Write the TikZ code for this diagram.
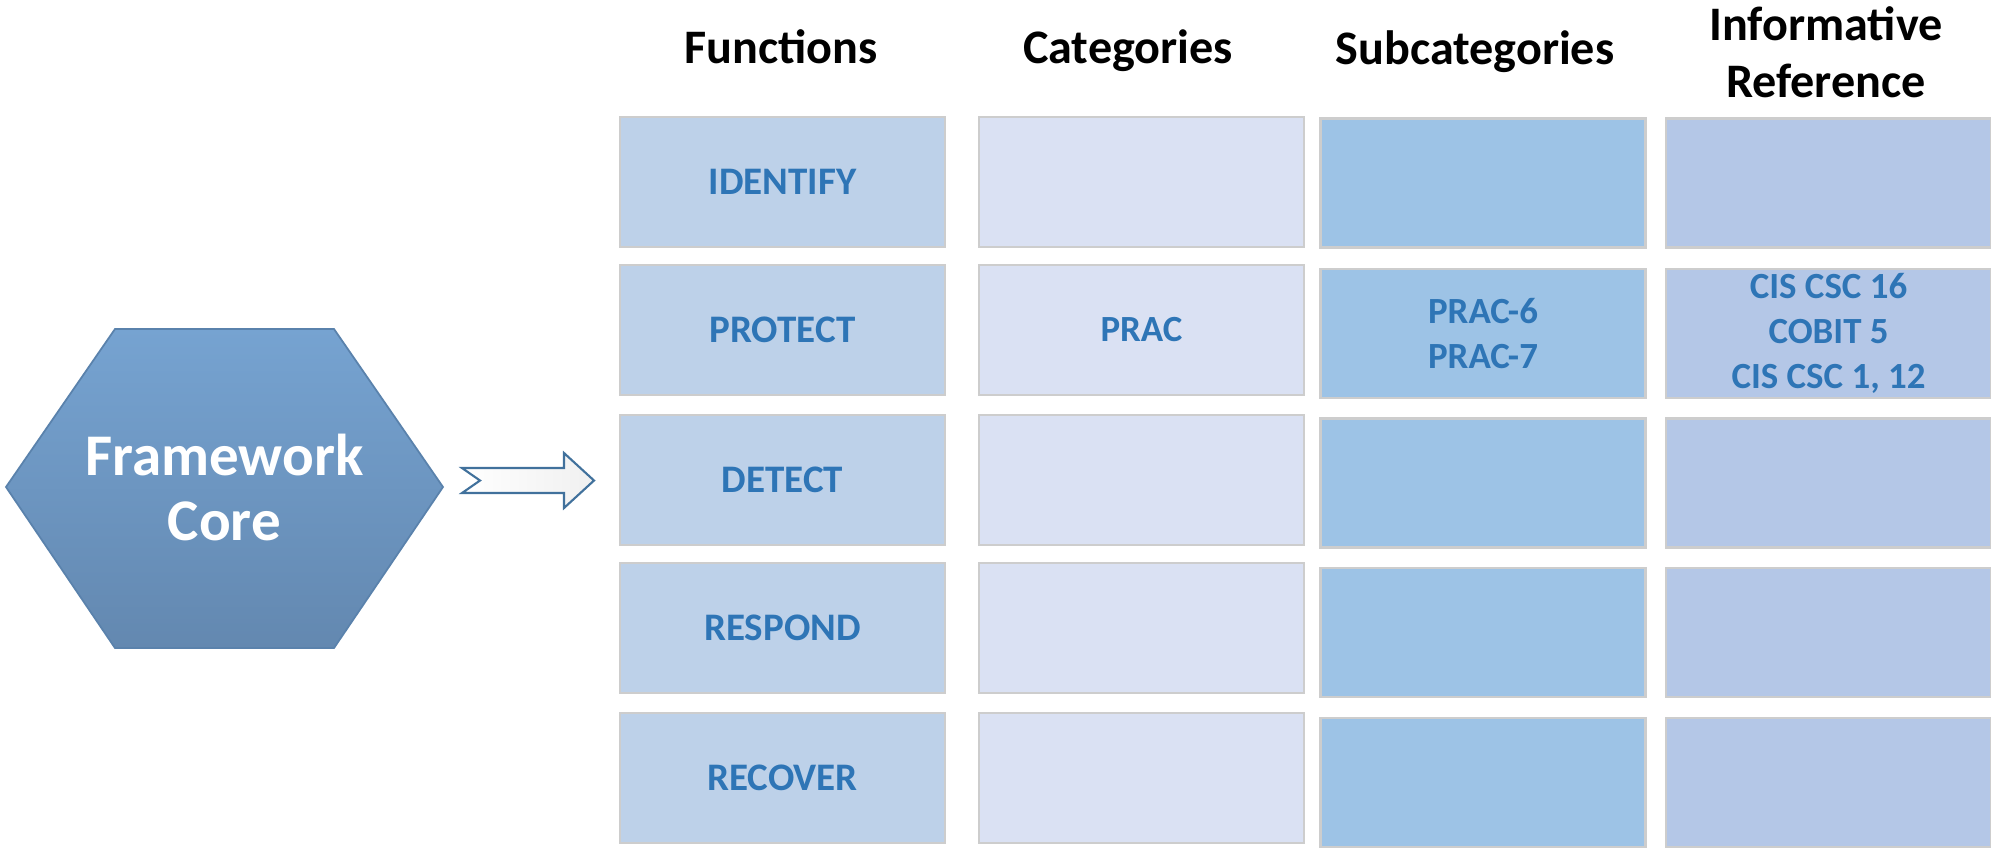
\documentclass[tikz,border=0pt]{standalone}
\usepackage{fontspec}
\setmainfont{Carlito}
\usetikzlibrary{calc,positioning}
\definecolor{funfill}{HTML}{BDD1E9}
\definecolor{catfill}{HTML}{DAE1F3}
\definecolor{subfill}{HTML}{9DC3E6}
\definecolor{reffill}{HTML}{B4C7E7}
\definecolor{celltext}{HTML}{2E75B6}
\definecolor{cellline}{HTML}{CDCDCD}
\definecolor{hextop}{HTML}{76A3D1}
\definecolor{hexmid}{HTML}{6A90BA}
\definecolor{hexbot}{HTML}{6388B0}
\definecolor{hexline}{HTML}{5A82AC}
\definecolor{arrline}{HTML}{41719C}
\tikzset{
  cell/.style  = {draw=cellline, line width=0.6pt, minimum width=32.5mm, minimum height=13mm,
                  inner sep=0pt, align=center, text=celltext,
                  font=\bfseries\fontsize{10.5}{12.8}\selectfont},
  fun/.style   = {cell, fill=funfill, font=\bfseries\fontsize{11.1}{13}\selectfont},
  cat/.style   = {cell, fill=catfill},
  sub/.style   = {cell, fill=subfill, minimum height=12.9mm},
  ref/.style   = {cell, fill=reffill, minimum height=12.9mm},
  head/.style  = {inner sep=0pt, align=center, font=\bfseries\fontsize{13.7}{16.2}\selectfont},
  core/.style  = {inner sep=0pt, align=center, text=white,
                  font=\bfseries\fontsize{16.8}{18.5}\selectfont},
}

\begin{document}
\begin{tikzpicture}[x=0.1mm,y=-0.1mm]
  \useasboundingbox (0,0) rectangle (1991,850);
  % hexagon
  \shadedraw[top color=hextop, middle color=hexmid, bottom color=hexbot, draw=hexline, line width=0.5pt]
    (6,487) -- (115,329) -- (334,329) -- (443,487) -- (334,648) -- (115,648) -- cycle;
  \node[core] (core) at (224.5,487) {Framework\\Core};
  % block arrow
  \shadedraw[left color=white, right color=gray!12, draw=arrline, line width=0.6pt]
    (462,468) -- (564,468) -- (564,453) -- (594,480.5) -- (564,508) -- (564,493)
    -- (462,493) -- (480,480.5) -- cycle;
  % column heads
  \node[head, anchor=base] (hfun) at (781,63) {Functions};
  \node[head, anchor=base] (hcat) at (1128,63) {Categories};
  \node[head, anchor=base] (hsub) at (1475,64) {Subcategories};
  \node[head] (href) at (1826,52) {Informative\\Reference};
  % functions
  \node[fun] (f1) at (782.5,182) {IDENTIFY};
  \node[fun] (f2) at (782.5,330) {PROTECT};
  \node[fun] (f3) at (782.5,480) {DETECT};
  \node[fun] (f4) at (782.5,628) {RESPOND};
  \node[fun] (f5) at (782.5,778) {RECOVER};
  % categories
  \node[cat] (c1) at (1141.5,182) {};
  \node[cat] (c2) at (1141.5,330) {PRAC};
  \node[cat] (c3) at (1141.5,480) {};
  \node[cat] (c4) at (1141.5,628) {};
  \node[cat] (c5) at (1141.5,778) {};
  % subcategories
  \node[sub] (s1) at (1483,183) {};
  \node[sub] (s2) at (1483,333.5) {PRAC-6\\PRAC-7};
  \node[sub] (s3) at (1483,483) {};
  \node[sub] (s4) at (1483,632.5) {};
  \node[sub] (s5) at (1483,782.5) {};
  % informative references
  \node[ref] (r1) at (1828.5,183) {};
  \node[ref] (r2) at (1828.5,333.5) {CIS CSC 16\\COBIT 5\\CIS CSC 1, 12};
  \node[ref] (r3) at (1828.5,483) {};
  \node[ref] (r4) at (1828.5,632.5) {};
  \node[ref] (r5) at (1828.5,782.5) {};
\end{tikzpicture}
\end{document}
